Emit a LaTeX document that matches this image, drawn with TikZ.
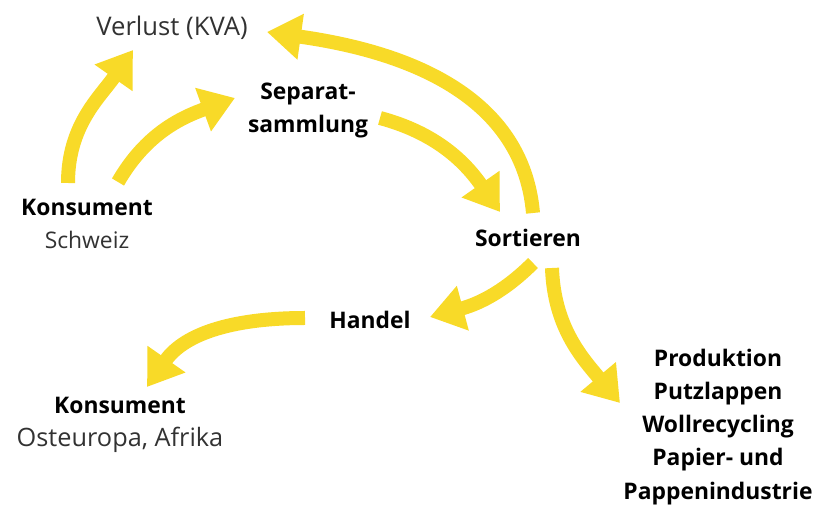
\documentclass[tikz,border=0pt]{standalone}
\usepackage{fontspec}
\setmainfont{Open Sans}
\usetikzlibrary{arrows.meta, calc}
\definecolor{FlowYellow}{RGB}{248, 218, 40}
\definecolor{LabelGrey}{RGB}{50, 50, 50}

\begin{document}
\begin{tikzpicture}[
    flow/.style={FlowYellow, line width=2.8mm, -{Triangle[length=6.8mm, width=8.8mm]}},
    station/.style={font=\fontsize{13}{18.8}\selectfont\bfseries, align=center, inner sep=0pt},
    plain/.style={font=\fontsize{14.6}{18.8}\selectfont, text=LabelGrey, align=center, inner sep=0pt}
]
    \useasboundingbox (0,0) rectangle (16.36,10.16);

    % Stationen
    \node[plain] (verlust) at (3.44, 9.6) {Verlust (KVA)};
    \node[station] (separat) at (6.16, 7.96) {Separat-\\sammlung};
    \node[station] (ksch) at (1.74, 5.68) {Konsument\\{\mdseries\color{LabelGrey}Schweiz}};
    \node[station] (sort) at (10.56, 5.4) {Sortieren};
    \node[station] (handel) at (7.4, 3.76) {Handel};
    \node[station] (kost) at (2.4, 1.66) {Konsument\\{\mdseries\fontsize{14.4}{18.8}\selectfont\color{LabelGrey}Osteuropa, Afrika}};
    \node[station] (prod) at (14.36, 1.62) {Produktion\\Putzlappen\\Wollrecycling\\Papier- und\\Pappenindustrie};

    % Fluesse
    \draw[flow] ([shift={(-0.38,0.82)}]ksch.center) to[out=90, in=235] ([shift={(-0.78,-0.44)}]verlust.center);
    \draw[flow] ([shift={(0.62,0.84)}]ksch.center) to[out=60, in=200] ([shift={(-1.46,0.24)}]separat.center);
    \draw[flow] ([shift={(1.44,-0.16)}]separat.center) to[out=-15, in=125] ([shift={(-0.56,0.52)}]sort.center);
    \draw[flow] ([shift={(0.1,0.5)}]sort.center) to[out=95, in=-8] ([shift={(1.9,-0.08)}]verlust.center);
    \draw[flow] ([shift={(0.1,-0.5)}]sort.center) to[out=225, in=15] ([shift={(1.2,0.06)}]handel.center);
    \draw[flow] ([shift={(0.48,-0.6)}]sort.center) to[out=-88, in=130] ([shift={(-1.96,0.48)}]prod.center);
    \draw[flow] ([shift={(-1.3,0.04)}]handel.center) to[out=180, in=55] ([shift={(0.54,0.76)}]kost.center);
\end{tikzpicture}
\end{document}
